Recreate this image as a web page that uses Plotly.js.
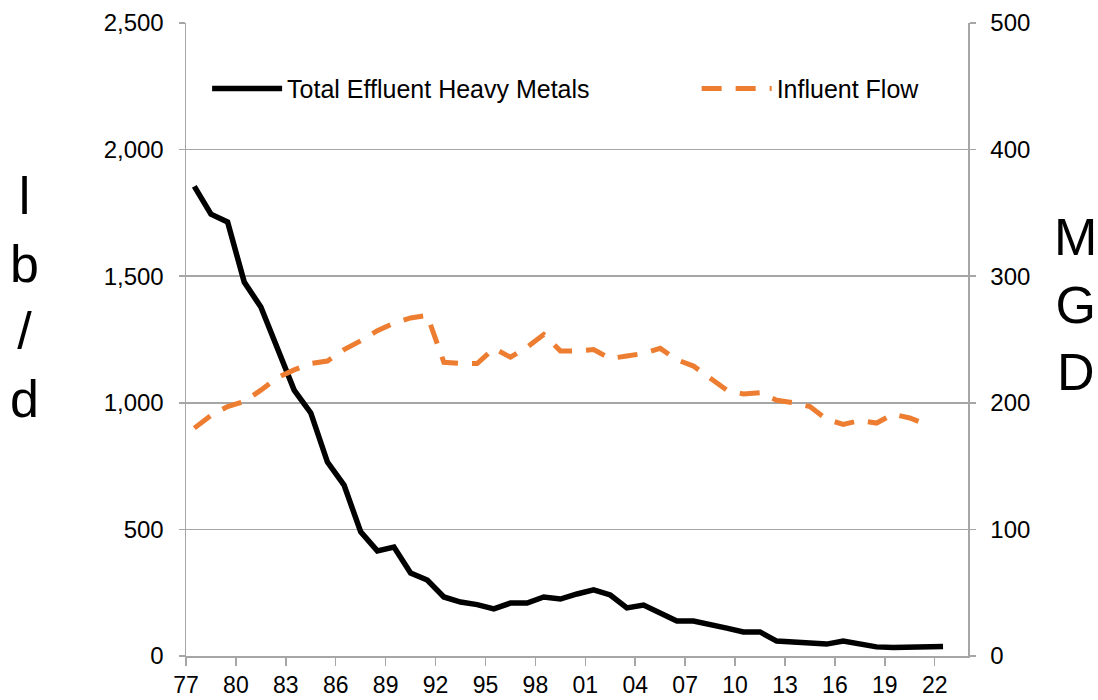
<!DOCTYPE html>
<html>
<head>
<meta charset="utf-8">
<script src="https://cdn.plot.ly/plotly-3.0.1.min.js"></script>
<style>html,body{margin:0;padding:0;background:#fff;}#chart{width:1098px;height:700px;}</style>
</head>
<body>
<div id="chart"></div>
<script>
// Years (data points)
const metalYears = [1977,1978,1979,1980,1981,1982,1983,1984,1985,1986,1987,1988,1989,1990,1991,1992,1993,1994,1995,1996,1997,1998,1999,2000,2001,2002,2003,2004,2005,2006,2007,2008,2009,2010,2011,2012,2013,2014,2015,2016,2017,2018,2019,2020,2021,2022];
// Total Effluent Heavy Metals (lb/d)
const heavyMetals = [1855,1745,1714,1477,1378,1208,1050,960,766,675,490,415,430,328,300,233,213,203,186,209,209,233,225,245,261,241,190,201,170,138,138,126,110,95,95,59,55,47,47,59,47,36,34,34,34,38];
const flowYears = [1977,1978,1979,1980,1981,1982,1983,1984,1985,1986,1987,1988,1989,1990,1991,1992,1993,1994,1995,1996,1997,1998,1999,2000,2001,2002,2003,2004,2005,2006,2007,2008,2009,2010,2011,2012,2013,2014,2015,2016,2017,2018,2019,2020,2021];
// Influent Flow (MGD)
const influentFlow = [180,190,197,201,210,220,226,231,233,242,249,257,263,267,269,232,231,231,243,236,244,254,241,241,242,235,237,239,243,234,229,220,210,207,208,202,200,197,187,183,186,184,191,188,183];
// Tick labels (every 3 years)
const tickYears = [1977,1980,1983,1986,1989,1992,1995,1998,2001,2004,2007,2010,2013,2016,2019,2022];
const tickLabels = ['77','80','83','86','89','92','95','98','01','04','07','10','13','16','19','22'];

const FONT = 'Liberation Sans, Arial, sans-serif';
const GRID = '#a6a6a6';

const traces = [
  {
    x: metalYears, y: heavyMetals, type: 'scatter', mode: 'lines',
    name: 'Total Effluent Heavy Metals',
    line: {color: '#000000', width: 5.5},
    yaxis: 'y', legend: 'legend'
  },
  {
    x: flowYears, y: influentFlow, type: 'scatter', mode: 'lines',
    name: 'Influent Flow',
    line: {color: '#ed7d31', width: 5, dash: '20px,14px'},
    yaxis: 'y2', legend: 'legend2'
  }
];

const legendBase = {
  orientation: 'h', yanchor: 'middle', xanchor: 'left', y: 0.896,
  bgcolor: 'rgba(0,0,0,0)', font: {family: FONT, size: 25, color: '#000'},
  itemwidth: 70
};

const layout = {
  width: 1098, height: 700,
  margin: {l: 186, r: 130, t: 23, b: 44},
  paper_bgcolor: '#ffffff', plot_bgcolor: '#ffffff',
  font: {family: FONT, size: 23, color: '#000'},
  showlegend: true,
  legend: Object.assign({}, legendBase, {x: 0.027}),
  legend2: Object.assign({}, legendBase, {x: 0.653}),
  xaxis: {
    type: 'linear', range: [1976.5, 2023.5],
    tickmode: 'array',
    tickvals: tickYears.map(v => v - 0.5),
    ticktext: tickLabels,
    ticks: 'outside', ticklen: 8, tickcolor: GRID, tickwidth: 1.5,
    showline: true, linecolor: GRID, linewidth: 1.5,
    showgrid: false, zeroline: false,
    tickfont: {family: FONT, size: 23, color: '#000'}
  },
  yaxis: {
    range: [0, 2500], dtick: 500, tickformat: ',',
    ticks: 'outside', ticklen: 6, tickcolor: GRID, tickwidth: 1.5,
    showline: true, linecolor: GRID, linewidth: 1.5,
    showgrid: true, gridcolor: GRID, gridwidth: 1.5, zeroline: false,
    ticklabelstandoff: 10,
    tickfont: {family: FONT, size: 24, color: '#000'}
  },
  yaxis2: {
    range: [0, 500], dtick: 100, overlaying: 'y', side: 'right',
    ticks: 'outside', ticklen: 6, tickcolor: GRID, tickwidth: 1.5,
    showline: true, linecolor: GRID, linewidth: 1.5,
    showgrid: false, zeroline: false,
    ticklabelstandoff: 10,
    tickfont: {family: FONT, size: 24, color: '#000'}
  },
  annotations: [
    {text: 'l<br>b<br>/<br>d', xref: 'paper', yref: 'paper', x: -0.206, y: 0.566,
     xanchor: 'center', yanchor: 'middle', showarrow: false,
     font: {family: FONT, size: 52, color: '#000'}},
    {text: 'M<br>G<br>D', xref: 'paper', yref: 'paper', x: 1.137, y: 0.556,
     xanchor: 'center', yanchor: 'middle', showarrow: false,
     font: {family: FONT, size: 52, color: '#000'}}
  ]
};

Plotly.newPlot('chart', traces, layout, {displayModeBar: false, staticPlot: true});
</script>
</body>
</html>
